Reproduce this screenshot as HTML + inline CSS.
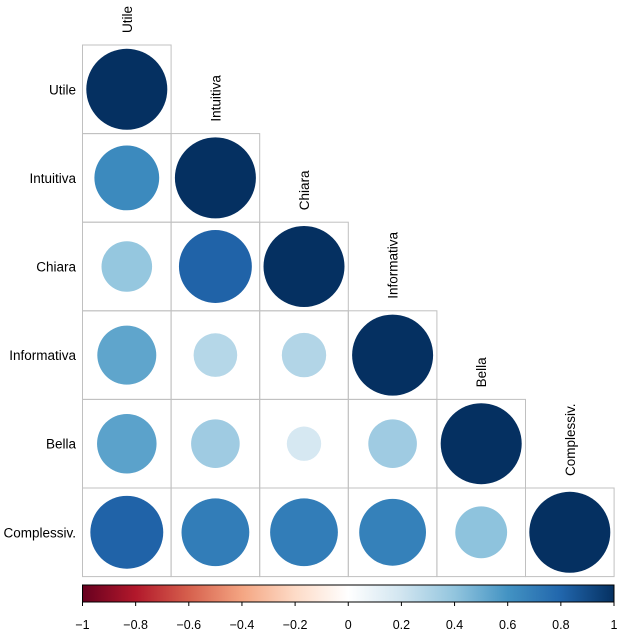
<!DOCTYPE html>
<html><head><meta charset="utf-8"><style>
html,body{margin:0;padding:0;background:#fff;}
svg{display:block;font-family:"Liberation Sans",sans-serif;}
</style></head><body>
<svg id="chart" width="619" height="635" viewBox="0 0 619 635" xmlns="http://www.w3.org/2000/svg"></svg>
<script>
const variables = ["Utile","Intuitiva","Chiara","Informativa","Bella","Complessiv."];
// lower-triangle correlations, row i, cols 0..i
const corrRows = [
  [1],
  [0.64,1],
  [0.39,0.81,1],
  [0.53,0.29,0.30,1],
  [0.54,0.36,0.18,0.36,1],
  [0.81,0.70,0.70,0.68,0.41,1]
];
const colorbarTicks = [-1,-0.8,-0.6,-0.4,-0.2,0,0.2,0.4,0.6,0.8,1];
const tickLabels = ["\u22121","\u22120.8","\u22120.6","\u22120.4","\u22120.2","0","0.2","0.4","0.6","0.8","1"];
const palette = ["#67001F","#B2182B","#D6604D","#F4A582","#FDDBC7","#FFFFFF","#D1E5F0","#92C5DE","#4393C3","#2166AC","#053061"];

const NS="http://www.w3.org/2000/svg";
const svg=document.getElementById('chart');
const x0=82.5, y0=45, cell=88.6, rMax=40.5;
const barX0=82.5, barX1=614, barY=585, barH=17;
const fs=13.5;
function cx(j){return x0+cell*j+cell/2;}
function cy(i){return y0+cell*i+cell/2;}
function xBar(v){return barX0+(v+1)/2*(barX1-barX0);}
function hex(c){return [1,3,5].map(k=>parseInt(c.substr(k,2),16));}
function color(v){
  const t=(v+1)/2*(palette.length-1);
  const k=Math.min(Math.floor(t),palette.length-2), f=t-k;
  const a=hex(palette[k]), b=hex(palette[k+1]);
  return 'rgb('+a.map((q,n)=>Math.round(q+(b[n]-q)*f)).join(',')+')';
}
function mk(tag,attrs){const e=document.createElementNS(NS,tag);for(const k in attrs)e.setAttribute(k,attrs[k]);svg.appendChild(e);return e;}

corrRows.forEach((row,i)=>{
  row.forEach((v,j)=>{
    const r=mk('rect',{x:x0+cell*j,y:y0+cell*i,width:cell,height:cell,fill:'none',stroke:'#c0c0c0','stroke-width':1});
    
    
    const c=mk('circle',{cx:cx(j),cy:cy(i),r:rMax*Math.sqrt(Math.abs(v)),fill:color(v)});
    
    
  });
});
variables.forEach((name,i)=>{
  const t=mk('text',{x:76,y:cy(i)+5,'text-anchor':'end','font-size':fs,fill:'#000'});
  t.textContent=name;
  
  
  const bx=cx(i)+5, by=y0+cell*i-12;
  const u=mk('text',{x:bx,y:by,'text-anchor':'start','font-size':fs,fill:'#000',transform:'rotate(-90 '+bx+' '+by+')'});
  u.textContent=name;
  
  
});
const defs=mk('defs',{});
const lg=document.createElementNS(NS,'linearGradient');
lg.setAttribute('id','grad');lg.setAttribute('x1','0');lg.setAttribute('x2','1');lg.setAttribute('y1','0');lg.setAttribute('y2','0');
palette.forEach((p,k)=>{const s=document.createElementNS(NS,'stop');s.setAttribute('offset',k/(palette.length-1));s.setAttribute('stop-color',p);lg.appendChild(s);});
defs.appendChild(lg);
const bar=mk('rect',{x:barX0,y:barY,width:barX1-barX0,height:barH,fill:'url(#grad)',stroke:'#000','stroke-width':1});


colorbarTicks.forEach((v,k)=>{
  const l=mk('line',{x1:xBar(v),x2:xBar(v),y1:barY+barH,y2:barY+barH+4,stroke:'#000'});
  
  
  const t=mk('text',{x:xBar(v),y:629,'text-anchor':'middle','font-size':12.5,fill:'#000'});
  t.textContent=tickLabels[k];
  
  
});
</script>
</body></html>
